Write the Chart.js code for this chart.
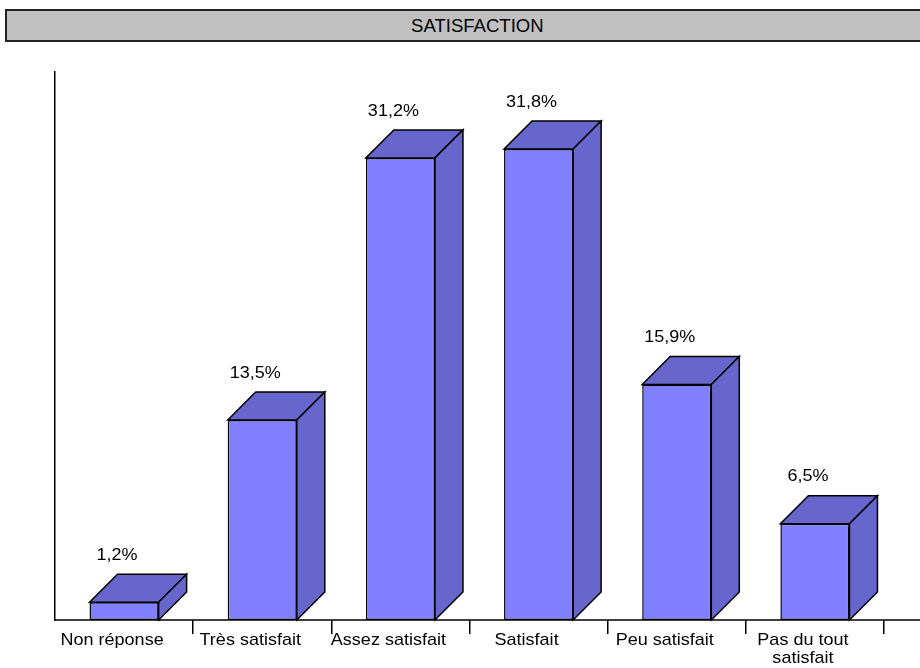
<!DOCTYPE html>
<html>
<head>
<meta charset="utf-8">
<script src="https://cdn.jsdelivr.net/npm/chart.js@4.4.1/dist/chart.umd.min.js"></script>
<style>
  html, body { margin: 0; padding: 0; background: #fff; overflow: hidden; }
  #wrap { position: relative; width: 920px; height: 668px; }
  #title {
    position: absolute; left: 5px; top: 9px; width: 940px; height: 29px;
    background: #c0c0c0; border: 2px solid #222;
    font: 18px "Liberation Sans", Arial, sans-serif; color: #000;
    line-height: 30px; text-align: center;
  }
  #title span { display: inline-block; transform: scaleX(1.03); }
  #myChart { position: absolute; left: 0; top: 0; }
</style>
</head>
<body>
<div id="wrap">
  <canvas id="myChart" width="920" height="668"></canvas>
  <div id="title"><span>SATISFACTION</span></div>
</div>
<script>
var categories = [
  "Non réponse",
  "Très satisfait",
  "Assez satisfait",
  "Satisfait",
  "Peu satisfait",
  ["Pas du tout", "satisfait"],
];
var percents = [1.2, 13.5, 31.2, 31.8, 15.9, 6.5];

var FONT = "'Liberation Sans', Arial, sans-serif";
var DEPTH = 28;
var STRETCH = 1.06;

// text a little wider than the font draws it
function wideText(c, text, x, y) {
  c.save();
  c.translate(x, y);
  c.scale(STRETCH, 1);
  c.fillText(text, 0, 0);
  c.restore();
}

// top and side faces of each bar, values above, category names below
var cubePlugin = {
  id: "cube",
  afterDatasetsDraw: function (chart) {
    var c = chart.ctx;
    var meta = chart.getDatasetMeta(0);
    var xs = chart.scales.x;
    c.save();
    c.lineWidth = 1.5;
    c.strokeStyle = "#000";
    c.lineJoin = "miter";
    meta.data.forEach(function (bar, i) {
      var x1 = bar.x - bar.width / 2, x2 = bar.x + bar.width / 2;
      var top = bar.y, base = bar.base;
      c.fillStyle = "#6666cc";
      // top face
      c.beginPath();
      c.moveTo(x1, top);
      c.lineTo(x1 + DEPTH, top - DEPTH);
      c.lineTo(x2 + DEPTH, top - DEPTH);
      c.lineTo(x2, top);
      c.closePath();
      c.fill();
      c.stroke();
      // side face
      c.beginPath();
      c.moveTo(x2, top);
      c.lineTo(x2 + DEPTH, top - DEPTH);
      c.lineTo(x2 + DEPTH, base - DEPTH);
      c.lineTo(x2, base);
      c.closePath();
      c.fill();
      c.stroke();

      c.fillStyle = "#000";
      c.font = "17px " + FONT;
      c.textAlign = "center";
      c.textBaseline = "middle";
      wideText(c, percents[i].toFixed(1).replace(".", ",") + "%", bar.x - 7, top - DEPTH - 19);
    });

    categories.forEach(function (label, i) {
      var lines = [].concat(label);
      var cx = xs.getPixelForValue(i) - 12;
      lines.forEach(function (line, k) {
        wideText(c, line, cx, chart.chartArea.bottom + 20 + k * 18);
      });
    });

    // base line runs on to the right edge
    c.beginPath();
    c.moveTo(chart.chartArea.left, chart.chartArea.bottom);
    c.lineTo(chart.width, chart.chartArea.bottom);
    c.stroke();
    c.restore();
  },
};

var ctx = document.getElementById("myChart").getContext("2d");
var myChart = new Chart(ctx, {
  type: "bar",
  data: {
    labels: categories,
    datasets: [
      {
        data: percents,
        backgroundColor: "#8080ff",
        borderColor: "#000",
        borderWidth: 1.5,
        borderSkipped: false,
        categoryPercentage: 1,
        barPercentage: 0.5,
      },
    ],
  },
  options: {
    responsive: false,
    animation: false,
    layout: { padding: { left: 55, right: 36, top: 72, bottom: 0 } },
    plugins: { legend: { display: false }, tooltip: { enabled: false } },
    scales: {
      x: {
        offset: true,
        border: { display: false },
        grid: {
          offset: true,
          drawOnChartArea: false,
          tickLength: 14,
          lineWidth: 1.5,
          color: function (c) { return c.index === 0 ? "rgba(0,0,0,0)" : "#000"; },
        },
        ticks: { display: false },
        afterFit: function (scale) { scale.height = 48; },
      },
      y: {
        min: 0,
        max: 37,
        grid: { display: false },
        border: { display: true, color: "#000", width: 1.5 },
        ticks: { display: false },
        afterFit: function (scale) { scale.width = 0; },
      },
    },
  },
  plugins: [cubePlugin],
});
</script>
</body>
</html>
